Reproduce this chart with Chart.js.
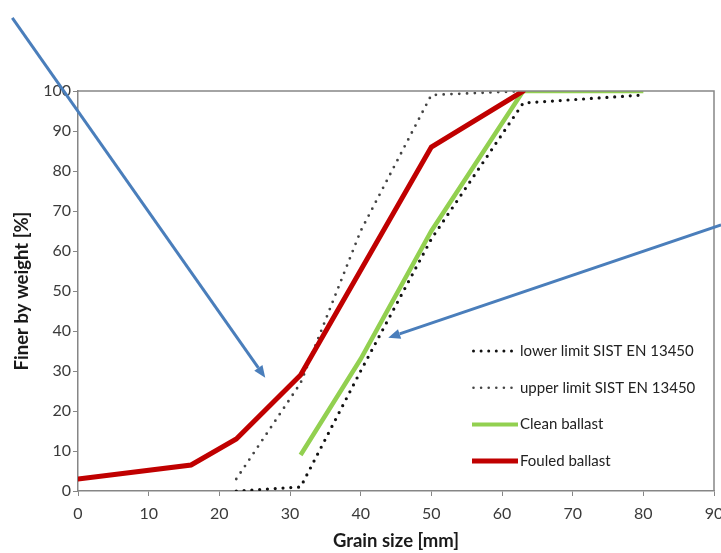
<!DOCTYPE html>
<html>
<head>
<meta charset="utf-8">
<script src="https://cdn.jsdelivr.net/npm/chart.js@4"></script>
<style>
  html, body { margin: 0; padding: 0; background: #fff; }
  #wrap { width: 721px; height: 553px; }
</style>
</head>
<body>
<div id="wrap"><canvas id="grading"></canvas></div>
<script>
// Grading curves, grain size [mm] vs finer by weight [%]
const lowerSize = [22.4, 31.5, 40, 50, 63, 80];
const lowerPass = [0, 1, 30, 63, 97, 99];

const upperSize = [22.4, 31.5, 40, 50, 63];
const upperPass = [3, 27, 65, 99, 100];

const cleanSize = [31.5, 40, 50, 63, 80];
const cleanPass = [9, 33, 65, 100, 100];

const fouledSize = [0, 16, 22.4, 31.5, 50, 63];
const fouledPass = [3, 6.5, 13, 29, 86, 100];

// Annotation arrows: [fromX, fromY, toX, toY] in axis units
const arrows = [
  [-9.3, 118.3, 26.5, 28.3],
  [91.0, 66.5, 43.9, 38.3]
];

const legendItems = [
  { text: 'lower limit SIST EN 13450', color: '#111', width: 3, dash: [0, 7.6], cap: 'round' },
  { text: 'upper limit SIST EN 13450', color: '#444', width: 2.6, dash: [0, 7.6], cap: 'round' },
  { text: 'Clean ballast', color: '#92D050', width: 4, dash: [], cap: 'butt' },
  { text: 'Fouled ballast', color: '#C00000', width: 5, dash: [], cap: 'butt' }
];

function points(xs, ys) {
  return xs.map((x, i) => ({ x: x, y: ys[i] }));
}

const FONT = 'Lato, "Open Sans", sans-serif';

const extras = {
  id: 'extras',
  afterDraw(chart) {
    const ctx = chart.ctx;
    const a = chart.chartArea;
    const xs = chart.scales.x, ys = chart.scales.y;
    ctx.save();

    // top and right frame
    ctx.strokeStyle = '#868686';
    ctx.lineWidth = 1.5;
    ctx.beginPath();
    ctx.moveTo(a.left, a.top);
    ctx.lineTo(a.right, a.top);
    ctx.lineTo(a.right, a.bottom);
    ctx.stroke();

    // legend inside plot
    const lx = a.left + 394, ly0 = a.top + 260, step = 36.7;
    ctx.font = '15px ' + FONT;
    ctx.textBaseline = 'middle';
    ctx.fillStyle = '#222';
    legendItems.forEach((it, i) => {
      const y = ly0 + i * step;
      ctx.strokeStyle = it.color;
      ctx.lineWidth = it.width;
      ctx.lineCap = it.cap;
      ctx.setLineDash(it.dash);
      ctx.beginPath();
      ctx.moveTo(lx + (it.dash.length ? 1.5 : 0), y);
      ctx.lineTo(lx + 46, y);
      ctx.stroke();
      ctx.setLineDash([]);
      ctx.fillText(it.text, lx + 48, y);
    });

    // blue arrows
    ctx.strokeStyle = '#4A7EBB';
    ctx.fillStyle = '#4A7EBB';
    ctx.lineWidth = 3;
    ctx.lineCap = 'butt';
    arrows.forEach(ar => {
      const x1 = xs.getPixelForValue(ar[0]), y1 = ys.getPixelForValue(ar[1]);
      const x2 = xs.getPixelForValue(ar[2]), y2 = ys.getPixelForValue(ar[3]);
      const ang = Math.atan2(y2 - y1, x2 - x1);
      const hl = 12, hw = 5;
      const bx = x2 - hl * Math.cos(ang), by = y2 - hl * Math.sin(ang);
      ctx.beginPath();
      ctx.moveTo(x1, y1);
      ctx.lineTo(bx, by);
      ctx.stroke();
      ctx.beginPath();
      ctx.moveTo(x2, y2);
      ctx.lineTo(bx + hw * Math.sin(ang), by - hw * Math.cos(ang));
      ctx.lineTo(bx - hw * Math.sin(ang), by + hw * Math.cos(ang));
      ctx.closePath();
      ctx.fill();
    });
    ctx.restore();
  }
};

new Chart(document.getElementById('grading'), {
  type: 'line',
  data: {
    datasets: [
      {
        label: 'lower limit SIST EN 13450',
        data: points(lowerSize, lowerPass),
        borderColor: '#111',
        borderWidth: 3.2,
        borderDash: [0, 7.8],
        borderCapStyle: 'round',
        order: 4
      },
      {
        label: 'upper limit SIST EN 13450',
        data: points(upperSize, upperPass),
        borderColor: '#444',
        borderWidth: 2.8,
        borderDash: [0, 7.8],
        borderCapStyle: 'round',
        order: 3
      },
      {
        label: 'Clean ballast',
        data: points(cleanSize, cleanPass),
        borderColor: '#92D050',
        borderWidth: 4.5,
        order: 2
      },
      {
        label: 'Fouled ballast',
        data: points(fouledSize, fouledPass),
        borderColor: '#C00000',
        borderWidth: 5,
        borderCapStyle: 'round',
        order: 1
      }
    ]
  },
  options: {
    responsive: true,
    maintainAspectRatio: false,
    animation: false,
    devicePixelRatio: 1,
    layout: { padding: { top: 91, right: 7, bottom: 0, left: 0 } },
    elements: {
      point: { radius: 0, hoverRadius: 0 },
      line: { tension: 0, fill: false }
    },
    plugins: {
      legend: { display: false },
      tooltip: { enabled: false }
    },
    scales: {
      x: {
        type: 'linear',
        min: 0,
        max: 90,
        ticks: { stepSize: 10, padding: 8, color: '#3a3a3a', font: { family: FONT, size: 16 } },
        grid: { drawOnChartArea: false, tickLength: 5, color: '#868686' },
        border: { color: '#868686', width: 1.5 },
        title: {
          display: true,
          text: 'Grain size [mm]',
          color: '#1a1a1a',
          font: { family: FONT, size: 18.5, weight: 'bold' },
          padding: { top: 2, bottom: 1 }
        },
        afterFit(scale) {
          scale.height = 62;
          scale.paddingLeft = 0;
          scale.paddingRight = 0;
        }
      },
      y: {
        min: 0,
        max: 100,
        ticks: { stepSize: 10, padding: 2, color: '#3a3a3a', font: { family: FONT, size: 16 } },
        grid: { drawOnChartArea: false, tickLength: 5, color: '#868686' },
        border: { color: '#868686', width: 1.5 },
        title: {
          display: true,
          text: 'Finer by weight [%]',
          color: '#1a1a1a',
          font: { family: FONT, size: 18.5, weight: 'bold' },
          padding: { top: 11, bottom: 2 }
        },
        afterFit(scale) {
          scale.width = 78;
          scale.paddingTop = 0;
          scale.paddingBottom = 0;
        }
      }
    }
  },
  plugins: [extras]
});
</script>
</body>
</html>
